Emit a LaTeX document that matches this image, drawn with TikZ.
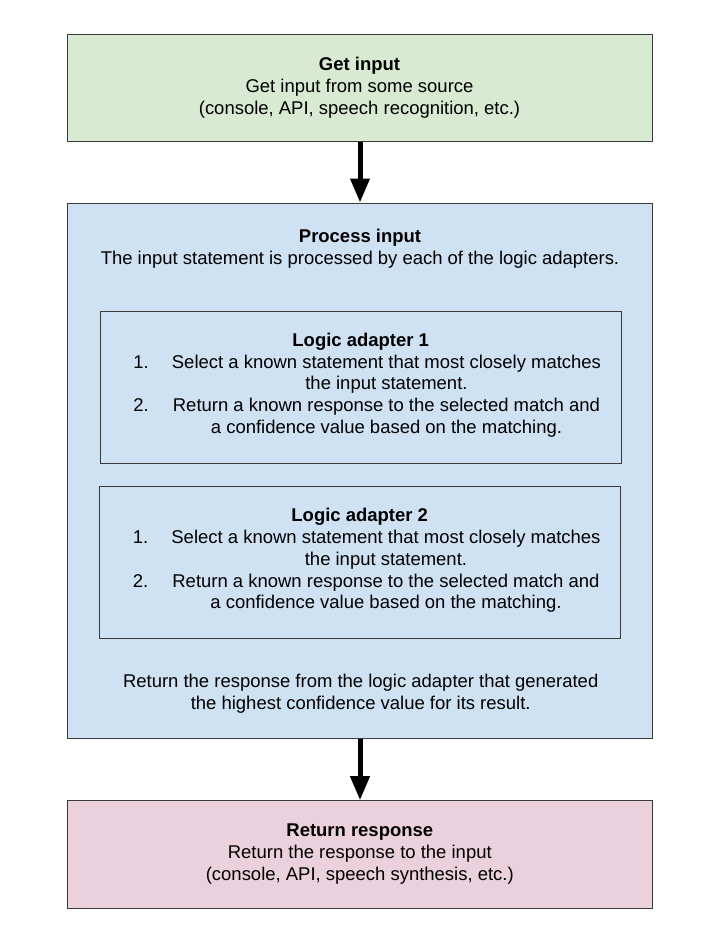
\documentclass[tikz,border=0pt]{standalone}
\usepackage{fontspec}
\setmainfont{Liberation Sans}
\usetikzlibrary{arrows.meta, positioning}
\definecolor{inputgreen}{HTML}{D9EAD3}
\definecolor{processblue}{HTML}{CFE2F3}
\definecolor{responsepink}{HTML}{EAD1DC}
\definecolor{edgegray}{HTML}{3A3A3A}

\begin{document}
\begin{tikzpicture}[
        x=0.75pt, y=-0.75pt,
        every node/.style={font=\fontsize{13.85}{16.4}\selectfont},
        stage/.style={rectangle, draw=edgegray, line width=0.75pt, minimum width=438.75pt, align=center, inner sep=0pt},
        adapter/.style={rectangle, draw=edgegray, line width=0.75pt, minimum width=390.5pt, minimum height=114pt, inner sep=0pt},
        flow/.style={line width=3.75pt, -{Triangle[width=14pt, length=18pt]}}
    ]
        \useasboundingbox (0,0) rectangle (715,931);

        \node[stage, fill=inputgreen, minimum height=79.5pt] (get) at (359.5,88) {\textbf{Get input}\\Get input from some source\\(console, API, speech recognition, etc.)};
        \node[stage, fill=processblue, minimum height=401.25pt] (process) at (359.5,470.5) {};
        \node[stage, fill=responsepink, minimum height=80.5pt] (respond) at (359.8,854.4) {\textbf{Return response}\\Return the response to the input\\(console, API, speech synthesis, etc.)};

        % inside the process box
        \node[align=center] (processtitle) at (360,248.4) {\textbf{Process input}\\The input statement is processed by each of the logic adapters.};

        \node[adapter] (adapterA) at (360.7,387.3) {};
        \node[anchor=base] (titleA) at (360.7,346.5) {\textbf{Logic adapter 1}};
        \node[anchor=base west, inner sep=0pt] (stepsA) at (133,368) {\begin{tabular}[t]{@{}l@{}c@{}}
            \makebox[29pt][l]{1.} & Select a known statement that most closely matches\\
             & the input statement.\\
            \makebox[29pt][l]{2.} & Return a known response to the selected match and\\
             & a confidence value based on the matching.
        \end{tabular}};

        \node[adapter] (adapterB) at (359.7,562) {};
        \node[anchor=base] (titleB) at (359.7,521.7) {\textbf{Logic adapter 2}};
        \node[anchor=base west, inner sep=0pt] (stepsB) at (132.5,543.3) {\begin{tabular}[t]{@{}l@{}c@{}}
            \makebox[29pt][l]{1.} & Select a known statement that most closely matches\\
             & the input statement.\\
            \makebox[29pt][l]{2.} & Return a known response to the selected match and\\
             & a confidence value based on the matching.
        \end{tabular}};

        \node[align=center] (pick) at (360.7,693.7) {Return the response from the logic adapter that generated\\the highest confidence value for its result.};

        \draw[flow] (get.south -| 360,0) -- (process.north -| 360,0);
        \draw[flow] (process.south -| 360,0) -- (respond.north -| 360,0);
    \end{tikzpicture}
\end{document}
